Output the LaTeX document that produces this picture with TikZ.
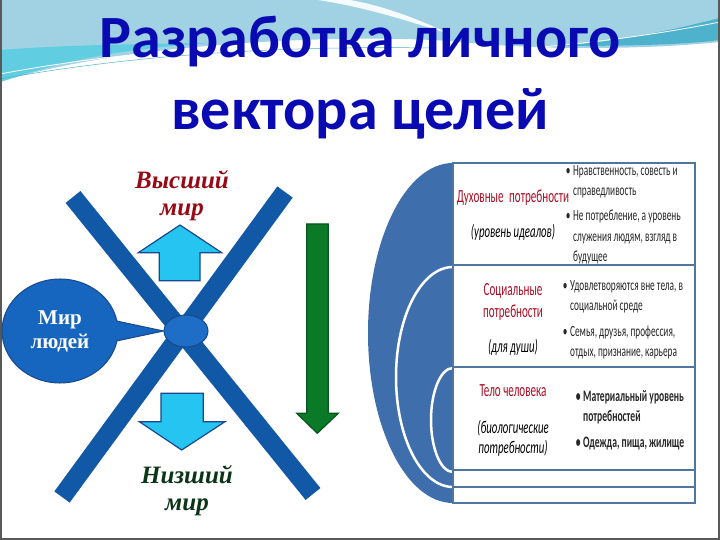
\documentclass[tikz,border=0pt]{standalone}
\usepackage{fontspec}
\setmainfont{Liberation Serif}
\newfontfamily\titlefont{Carlito}
\newfontfamily\narrowfont[FakeStretch=0.6]{Carlito}
\usetikzlibrary{shapes.geometric, shapes.callouts}

\definecolor{titleblue}{RGB}{10,10,178}
\definecolor{headblue}{RGB}{160,210,228}
\definecolor{headcyan}{RGB}{96,206,224}
\definecolor{headteal}{RGB}{78,178,204}
\definecolor{crossblue}{RGB}{17,88,166}
\definecolor{hubblue}{RGB}{30,110,200}
\definecolor{bubbleblue}{RGB}{22,102,192}
\definecolor{upblue}{RGB}{38,196,240}
\definecolor{edgeblue}{RGB}{25,72,140}
\definecolor{downgreen}{RGB}{10,122,40}
\definecolor{highred}{RGB}{150,10,22}
\definecolor{lowgreen}{RGB}{12,52,22}
\definecolor{panelblue}{RGB}{63,110,172}
\definecolor{rowline}{RGB}{78,118,160}
\definecolor{needred}{RGB}{170,14,36}

\begin{document}
\begin{tikzpicture}
  [x=1pt, y=-1pt,
   bar/.style={draw=crossblue, line width=19pt},
   fatarrow/.style={draw=edgeblue, line width=1.2pt, fill=upblue, line join=miter},
   heading/.style={font=\titlefont\bfseries\fontsize{60}{60}\selectfont, text=titleblue, anchor=base, inner sep=0},
   world/.style={font=\bfseries\itshape\fontsize{25}{25}\selectfont, anchor=base, inner sep=0},
   need/.style={font=\narrowfont\fontsize{18.5}{18.5}\selectfont, text=needred, anchor=base, inner sep=0},
   needsub/.style={font=\narrowfont\itshape\fontsize{18}{18}\selectfont, anchor=base, inner sep=0},
   item/.style={font=\narrowfont\fontsize{15.5}{15.5}\selectfont, text=black!85, anchor=base west, inner sep=0}]
  \useasboundingbox (0,0) rectangle (720,540);
  % header swoosh
  \fill[headblue] (0,0) -- (720,0) -- (720,42) .. controls (640,50) and (540,50) .. (460,42)
    .. controls (380,34) and (140,38) .. (0,82) -- cycle;
  \fill[white, opacity=0.9] (318,0) .. controls (370,8) and (410,22) .. (450,34)
    .. controls (420,20) and (385,6) .. (350,0) -- cycle;
  \fill[headcyan] (0,82) .. controls (60,62) and (110,50) .. (210,43)
    .. controls (120,44) and (50,46) .. (0,50) -- cycle;
  \fill[headteal] (720,18) .. controls (680,28) and (630,40) .. (560,46)
    .. controls (640,46) and (690,44) .. (720,40) -- cycle;
  \draw[white, line width=0.8pt] (0,74) .. controls (150,46) and (300,40) .. (480,44);
  \draw[headteal, line width=0.5pt] (0,79) .. controls (150,52) and (300,46) .. (430,48);
  \draw[white, line width=0.8pt] (500,50) .. controls (600,44) and (680,30) .. (720,22);
  % frame
  \draw[black!65, line width=2pt] (1,0) -- (1,539) -- (719,539) -- (719,0);
  \fill[white] (365,152) rectangle (718,505);
  % title
  \node[heading] (title1) at (360,58) {Разработка личного};
  \node[heading] (title2) at (360,130) {вектора целей};
  % cross
  \draw[bar] (73,197) -- (313,494);
  \draw[bar] (285,192) -- (62,497);
  \node[ellipse, draw=edgeblue, fill=hubblue, line width=1pt, minimum width=44pt, minimum height=32pt]
    (hub) at (186,331) {};
  \node[ellipse callout, draw=edgeblue, fill=bubbleblue, line width=1pt,
        minimum width=116pt, minimum height=104pt, inner sep=0, callout pointer arc=22,
        callout absolute pointer={(hub.west)}, align=center, text=white,
        font=\bfseries\fontsize{21}{24}\selectfont]
    (people) at (60,331) {Мир\\людей};
  % up / down
  \draw[fatarrow] (180,225) -- (221.7,252.7) -- (200,252.7) -- (200,280.7) -- (159.3,280.7)
    -- (159.3,252.7) -- (138.3,252.7) -- cycle;
  \draw[fatarrow] (181.7,450) -- (225,421.7) -- (203.3,421.7) -- (203.3,393.3) -- (161,393.3)
    -- (161,421.7) -- (139.3,421.7) -- cycle;
  \draw[fatarrow, fill=downgreen, draw=downgreen!70!black] (317.3,433.3) -- (338.3,413.3)
    -- (328.3,413.3) -- (328.3,224) -- (306.7,224) -- (306.7,413.3) -- (296.7,413.3) -- cycle;
  \node[world, text=highred] (high1) at (182,189) {Высший};
  \node[world, text=highred] (high2) at (182,215) {мир};
  \node[world, text=lowgreen] (low1) at (187,483) {Низший};
  \node[world, text=lowgreen] (low2) at (187,510) {мир};
  % needs panel
  \fill[panelblue] (453,163) .. controls (406,163) and (368,239) .. (368,333)
    .. controls (368,427) and (406,503) .. (453,503) -- cycle;
  \draw[white, line width=2.5pt] (453,267) .. controls (421.5,267) and (396,316) .. (396,377)
    .. controls (396,438) and (421.5,487) .. (453,487);
  \draw[white, line width=2.5pt] (453,368) .. controls (440.8,368) and (431,391.3) .. (431,420)
    .. controls (431,448.7) and (440.8,472) .. (453,472);
  \foreach \a/\b in {163/265, 265/367, 367/470, 470/487, 487/503} {
      \draw[rowline, line width=2.5pt, fill=white] (453,\a) rectangle (695,\b);
  }
  \node[need] (spirit) at (513,203) {Духовные\, потребности};
  \node[needsub] (spirit2) at (513,237) {(уровень идеалов)};
  \node[need] (social) at (513,295) {Социальные};
  \node[need] (social2) at (513,317) {потребности};
  \node[needsub] (social3) at (513,352) {(для души)};
  \node[need] (body) at (513,396) {Тело человека};
  \node[needsub] (body2) at (513,433) {(биологические};
  \node[needsub] (body3) at (513,453) {потребности)};
  \foreach \y/\t [count=\i] in {176/{\llap{•\,}Нравственность, совесть и}, 196/справедливость,
      221/{\llap{•\,}Не потребление, а уровень}, 241/{служения людям, взгляд в}, 261/будущее} {
      \node[item] (s\i) at (573,\y) {\t};
  }
  \foreach \y/\t [count=\i] in {290/{\llap{•\,}Удовлетворяются вне тела, в}, 310/социальной среде,
      336/{\llap{•\,}Семья, друзья, профессия,}, 356/{отдых, признание, карьера}} {
      \node[item] (c\i) at (570,\y) {\t};
  }
  \foreach \y/\t [count=\i] in {401/{\llap{•\,}Материальный уровень}, 421/потребностей,
      447/{\llap{•\,}Одежда, пища, жилище}} {
      \node[item, font=\narrowfont\bfseries\fontsize{16}{16}\selectfont] (m\i) at (583,\y) {\t};
  }
\end{tikzpicture}
\end{document}
